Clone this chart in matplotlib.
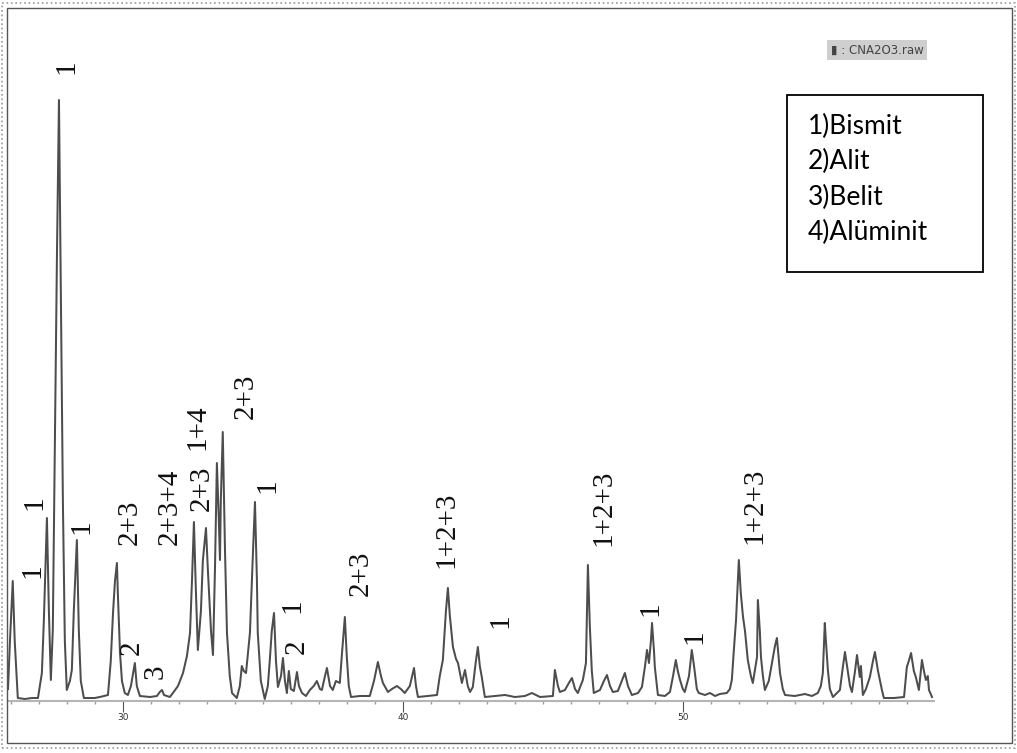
import matplotlib
matplotlib.use("Agg")
import matplotlib.pyplot as plt
from matplotlib.patches import Rectangle

# ---- data (2-theta in degrees, intensity in arbitrary units) ----
two_theta = [
    25.88, 25.95, 26.05, 26.12, 26.23, 26.48, 26.73, 26.95, 27.09, 27.16,
    27.27, 27.34, 27.41, 27.48, 27.55, 27.63, 27.70, 27.77, 27.84, 27.91,
    27.98, 28.09, 28.16, 28.23, 28.34, 28.41, 28.48, 28.59, 28.98, 29.16,
    29.45, 29.55, 29.63, 29.70, 29.77, 29.80, 29.88, 29.95, 30.05, 30.16,
    30.27, 30.41, 30.48, 30.59, 30.95, 31.20, 31.30, 31.38, 31.45, 31.66,
    31.77, 31.95, 32.13, 32.27, 32.38, 32.45, 32.52, 32.59, 32.66, 32.77,
    32.84, 32.95, 33.02, 33.13, 33.20, 33.27, 33.34, 33.41, 33.45, 33.48,
    33.55, 33.63, 33.70, 33.80, 33.88, 34.05, 34.16, 34.23, 34.30, 34.38,
    34.52, 34.63, 34.70, 34.77, 34.80, 34.91, 35.05, 35.16, 35.23, 35.30,
    35.38, 35.45, 35.52, 35.63, 35.70, 35.77, 35.84, 35.91, 35.98, 36.09,
    36.20, 36.27, 36.38, 36.52, 36.66, 36.80, 36.91, 37.02, 37.09, 37.20,
    37.27, 37.38, 37.48, 37.59, 37.73, 37.80, 37.91, 37.98, 38.05, 38.13,
    38.45, 38.80, 38.95, 39.09, 39.20, 39.27, 39.45, 39.59, 39.77, 39.91,
    40.05, 40.23, 40.38, 40.45, 40.52, 40.88, 41.20, 41.30, 41.41, 41.52,
    41.59, 41.66, 41.77, 41.88, 41.95, 42.09, 42.20, 42.30, 42.38, 42.48,
    42.59, 42.66, 42.73, 42.80, 42.91, 43.27, 43.63, 43.98, 44.34, 44.59,
    44.88, 45.34, 45.41, 45.52, 45.59, 45.77, 45.91, 46.02, 46.13, 46.23,
    46.41, 46.52, 46.59, 46.66, 46.73, 46.80, 47.02, 47.16, 47.27, 47.38,
    47.48, 47.66, 47.80, 47.91, 48.02, 48.16, 48.38, 48.52, 48.63, 48.70,
    48.77, 48.84, 48.88, 48.95, 48.98, 49.09, 49.34, 49.52, 49.63, 49.73,
    49.80, 49.88, 49.98, 50.05, 50.20, 50.30, 50.38, 50.41, 50.48, 50.55,
    50.77, 50.95, 51.13, 51.30, 51.55, 51.66, 51.73, 51.80, 51.88, 51.98,
    52.05, 52.13, 52.20, 52.30, 52.41, 52.48, 52.55, 52.63, 52.66, 52.73,
    52.77, 52.84, 52.91, 53.05, 53.20, 53.27, 53.34, 53.41, 53.45, 53.55,
    53.63, 53.98, 54.34, 54.59, 54.80, 54.91, 54.98, 55.05, 55.09, 55.16,
    55.23, 55.34, 55.48, 55.59, 55.70, 55.77, 55.88, 55.95, 56.02, 56.13,
    56.20, 56.27, 56.30, 56.34, 56.41, 56.52, 56.66, 56.77, 56.84, 56.95,
    57.09, 57.16, 57.52, 57.88, 57.98, 58.05, 58.13, 58.23, 58.30, 58.41,
    58.52, 58.59, 58.66, 58.73, 58.77, 58.88,
]
intensity = [
    12, 60, 120, 60, 3, 2, 3, 3, 28, 80,
    183, 90, 21, 71, 250, 450, 601, 400, 200, 60,
    11, 20, 31, 90, 161, 70, 20, 3, 3, 4,
    6, 40, 88, 120, 138, 110, 48, 20, 8, 6,
    15, 38, 15, 5, 4, 5, 9, 11, 6, 4,
    8, 15, 28, 45, 68, 120, 179, 110, 51, 90,
    141, 173, 130, 70, 46, 130, 238, 180, 141, 200,
    269, 150, 68, 25, 8, 3, 15, 35, 30, 28,
    68, 150, 199, 120, 68, 20, 2, 15, 41, 70,
    88, 40, 14, 25, 43, 20, 8, 30, 12, 10,
    29, 15, 8, 5, 11, 15, 20, 12, 11, 25,
    33, 15, 11, 20, 18, 45, 84, 44, 15, 4,
    5, 5, 20, 39, 25, 18, 9, 12, 15, 12,
    8, 15, 33, 15, 4, 5, 6, 25, 41, 90,
    113, 85, 54, 42, 38, 18, 31, 15, 9, 14,
    40, 54, 35, 24, 4, 5, 6, 4, 5, 8,
    4, 5, 31, 15, 9, 11, 18, 23, 12, 8,
    21, 38, 136, 74, 30, 8, 11, 20, 26, 15,
    9, 10, 20, 28, 15, 6, 8, 14, 35, 51,
    38, 60, 78, 50, 34, 6, 5, 9, 25, 41,
    30, 21, 12, 9, 25, 51, 35, 28, 12, 8,
    6, 8, 5, 7, 8, 12, 21, 50, 81, 141,
    108, 84, 70, 41, 25, 18, 30, 44, 101, 70,
    44, 25, 11, 20, 44, 55, 63, 40, 28, 12,
    6, 5, 7, 5, 8, 15, 28, 78, 60, 31,
    12, 4, 8, 11, 35, 49, 28, 15, 9, 30,
    46, 30, 24, 35, 6, 12, 24, 40, 49, 30,
    11, 3, 3, 4, 34, 40, 48, 30, 24, 11,
    41, 30, 21, 25, 11, 4,
]

# peak annotations: label, 2-theta, intensity position of label centre
peak_labels = ["1", "1", "1", "1", "2+3", "2", "3", "2+3+4", "2+3", "1+4",
               "2+3", "1", "1", "2", "2+3", "1+2+3", "1", "1+2+3", "1", "1",
               "1+2+3"]
label_theta = [27.95, 26.77, 26.84, 28.52, 30.23, 30.30, 31.16, 31.66, 32.80, 32.63,
               34.38, 35.13, 36.05, 36.20, 38.48, 41.52, 43.45, 47.16, 48.84, 50.41,
               52.55]
label_int = [634, 130, 198, 174, 179, 53, 29, 194, 213, 274,
             305, 215, 95, 54, 128, 171, 80, 193, 92, 64,
             195]

legend_lines = ["1)Bismit", "2)Alit", "3)Belit", "4)Alüminit"]
major_ticks = [30, 40, 50]
file_label = "▮ : CNA2O3.raw"

W, H = 1017, 753
fig = plt.figure(figsize=(W / 100, H / 100), dpi=100)
fig.patch.set_facecolor("white")

def fx(px):
    return px / W

def fy(py):
    return 1 - py / H

# main axes: left 8px .. right 934px, baseline at 701px, top at 60px
ax = fig.add_axes([fx(8), fy(701), fx(934) - fx(8), (701 - 60) / H])
ax.set_facecolor("none")
ax.plot(two_theta, intensity, color="#4d4d4d", lw=1.45, solid_joinstyle="round")
ax.set_xlim(25.88, 58.95)
ax.set_ylim(0, 641)
for s in ["top", "right", "left"]:
    ax.spines[s].set_visible(False)
ax.spines["bottom"].set_color("#b5b5b5")
ax.spines["bottom"].set_linewidth(1.5)
ax.set_yticks([])
ax.set_xticks(major_ticks)
ax.set_xticks(range(26, 59), minor=True)
ax.tick_params(axis="x", which="major", length=8, width=0.8, color="#555555",
               labelsize=6.5, labelcolor="#333333", pad=1)
ax.tick_params(axis="x", which="minor", length=2, width=1.0, color="#9a9a9a")

for lab, tx, ty in zip(peak_labels, label_theta, label_int):
    ax.text(tx, ty, lab, rotation=90, ha="center", va="center",
            fontsize=21, family="Liberation Serif", color="#111111", clip_on=False)

# legend box
fig.patches.append(Rectangle((fx(787), fy(272)), fx(983) - fx(787), (272 - 95) / H,
                             transform=fig.transFigure, fill=False,
                             edgecolor="black", linewidth=1.3))
for i, line in enumerate(legend_lines):
    fig.text(fx(808), fy(126 + i * 35.5), line, ha="left", va="center",
             fontsize=19, family="Lato", color="black")

# file label
fig.text(fx(877), fy(50), file_label, ha="center", va="center", fontsize=8.5,
         color="#444444",
         bbox=dict(boxstyle="square,pad=0.3", facecolor="#cfcfcf", edgecolor="none"))

# frames
fig.patches.append(Rectangle((fx(7), fy(743)), fx(1012) - fx(7), (743 - 8) / H,
                             transform=fig.transFigure, fill=False,
                             edgecolor="#555555", linewidth=1.0))
fig.patches.append(Rectangle((fx(2), fy(748)), fx(1015) - fx(2), (748 - 3) / H,
                             transform=fig.transFigure, fill=False,
                             edgecolor="#999999", linewidth=1.2, linestyle=":"))

fig.savefig("out.png", dpi=100, facecolor="white")
